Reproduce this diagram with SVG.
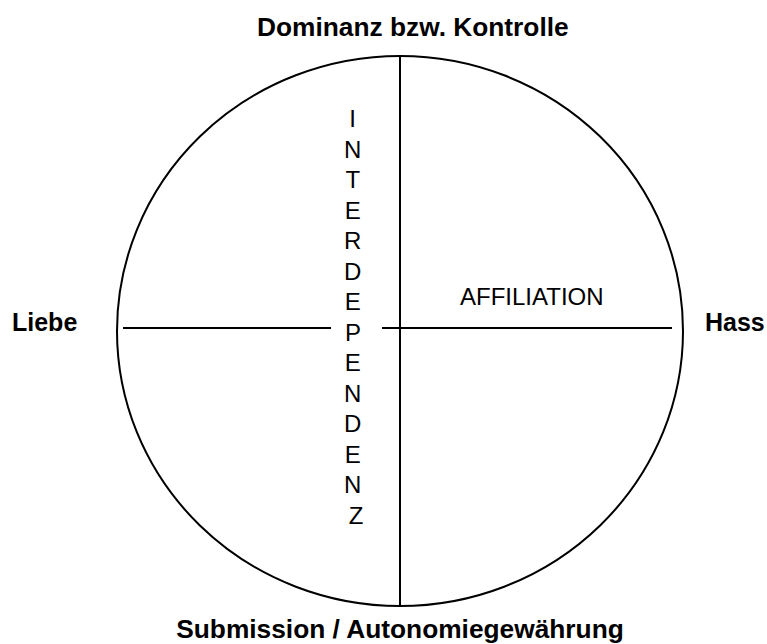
<svg xmlns="http://www.w3.org/2000/svg" width="767" height="644" viewBox="0 0 767 644">
  <style>
    .axis { stroke: #000; stroke-width: 2; fill: none; }
    .pole { font-family: "Liberation Sans", Arial, sans-serif; font-size: 25px; font-weight: bold; fill: #000; }
    .pole-v { font-size: 26.3px; }
    .label { font-family: "Liberation Sans", Arial, sans-serif; font-size: 24px; fill: #000; }
  </style>
  <rect width="767" height="644" fill="#fff"/>

  <!-- circle and axes -->
  <g id="connectors">
    <ellipse class="axis" cx="400" cy="331" rx="283" ry="275"/>
    <line class="axis" x1="400" y1="56" x2="400" y2="606" stroke-width="1.6"/>
    <line class="axis" x1="123" y1="328" x2="331" y2="328"/>
    <line class="axis" x1="382" y1="328" x2="672" y2="328"/>
  </g>

  <g id="pole-top"><text class="pole pole-v" x="257" y="36">Dominanz bzw. Kontrolle</text></g>
  <g id="pole-bottom"><text class="pole pole-v" x="400" y="638" text-anchor="middle">Submission / Autonomiegewährung</text></g>
  <g id="pole-left"><text class="pole" x="12" y="331">Liebe</text></g>
  <g id="pole-right"><text class="pole" x="705" y="331">Hass</text></g>

  <g id="affiliation"><text class="label" x="460" y="305">AFFILIATION</text></g>

  <!-- vertical lettering, one letter per line -->
  <g id="interdependenz">
    <text class="label" x="356" text-anchor="middle">
      <tspan x="356" y="127">I</tspan>
      <tspan x="356" y="157.5">N</tspan>
      <tspan x="356" y="188">T</tspan>
      <tspan x="356" y="218.5">E</tspan>
      <tspan x="356" y="249">R</tspan>
      <tspan x="356" y="279.5">D</tspan>
      <tspan x="356" y="310">E</tspan>
      <tspan x="356" y="340.5">P</tspan>
      <tspan x="356" y="371">E</tspan>
      <tspan x="356" y="401.5">N</tspan>
      <tspan x="356" y="432">D</tspan>
      <tspan x="356" y="462.5">E</tspan>
      <tspan x="356" y="493">N</tspan>
      <tspan x="356" y="523.5">Z</tspan>
    </text>
  </g>
</svg>
